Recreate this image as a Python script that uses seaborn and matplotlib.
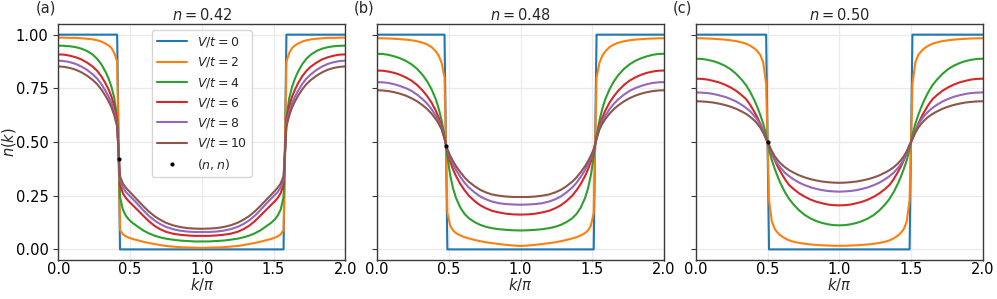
import matplotlib
matplotlib.use("Agg")
import matplotlib.pyplot as plt
import seaborn as sns

# momentum distribution n(k) for k/pi in [0, 1]; the other half is the mirror image about k = pi
densities = [0.42, 0.48, 0.50]
panel_tags = ["(a)", "(b)", "(c)"]
v_labels = [r"$V/t = 0$", r"$V/t = 2$", r"$V/t = 4$", r"$V/t = 6$", r"$V/t = 8$", r"$V/t = 10$"]

# (a) n = 0.42
k_a = [0.0, 0.04, 0.08, 0.12, 0.16, 0.20, 0.24, 0.27, 0.30, 0.33, 0.35, 0.37, 0.39, 0.41,
       0.43, 0.45, 0.47, 0.49, 0.52, 0.55, 0.59, 0.63, 0.67, 0.71, 0.75, 0.80, 0.85, 0.90, 0.95, 1.0]
a_v0 = [1] * 14 + [0] * 16
a_v2 = [0.986, 0.986, 0.985, 0.985, 0.983, 0.981, 0.978, 0.974, 0.968, 0.958, 0.950, 0.938, 0.915, 0.875,
        0.090, 0.070, 0.061, 0.055, 0.048, 0.043, 0.036, 0.030, 0.025, 0.020, 0.016, 0.013, 0.010, 0.009, 0.008, 0.007]
a_v4 = [0.949, 0.948, 0.946, 0.942, 0.935, 0.924, 0.907, 0.888, 0.862, 0.826, 0.796, 0.758, 0.705, 0.615,
        0.245, 0.185, 0.158, 0.140, 0.122, 0.108, 0.089, 0.075, 0.064, 0.056, 0.050, 0.045, 0.041, 0.039, 0.037, 0.037]
a_v6 = [0.908, 0.907, 0.902, 0.895, 0.885, 0.870, 0.851, 0.832, 0.806, 0.772, 0.745, 0.712, 0.668, 0.600,
        0.300, 0.262, 0.240, 0.225, 0.205, 0.185, 0.158, 0.132, 0.110, 0.094, 0.082, 0.073, 0.068, 0.065, 0.063, 0.063]
a_v8 = [0.879, 0.877, 0.872, 0.864, 0.852, 0.836, 0.815, 0.796, 0.770, 0.737, 0.712, 0.682, 0.642, 0.582,
        0.325, 0.288, 0.268, 0.254, 0.234, 0.213, 0.184, 0.157, 0.135, 0.118, 0.105, 0.094, 0.087, 0.083, 0.081, 0.081]
a_v10 = [0.852, 0.850, 0.845, 0.837, 0.825, 0.809, 0.789, 0.770, 0.745, 0.714, 0.690, 0.662, 0.624, 0.572,
         0.340, 0.307, 0.288, 0.273, 0.252, 0.231, 0.203, 0.177, 0.155, 0.138, 0.124, 0.112, 0.104, 0.099, 0.097, 0.096]

# (b) n = 0.48
k_b = [0.0, 0.04, 0.08, 0.12, 0.16, 0.20, 0.24, 0.28, 0.32, 0.35, 0.38, 0.41, 0.43, 0.45, 0.47,
       0.49, 0.51, 0.53, 0.55, 0.58, 0.61, 0.64, 0.68, 0.72, 0.76, 0.80, 0.85, 0.90, 0.95, 1.0]
b_v0 = [1] * 15 + [0] * 15
b_v2 = [0.983, 0.983, 0.982, 0.981, 0.979, 0.977, 0.974, 0.969, 0.962, 0.954, 0.942, 0.922, 0.902, 0.868, 0.800,
        0.170, 0.110, 0.088, 0.076, 0.065, 0.057, 0.051, 0.044, 0.038, 0.033, 0.029, 0.025, 0.021, 0.018, 0.016]
b_v4 = [0.911, 0.910, 0.906, 0.899, 0.890, 0.878, 0.862, 0.840, 0.810, 0.782, 0.745, 0.698, 0.655, 0.600, 0.530,
        0.430, 0.345, 0.283, 0.240, 0.195, 0.165, 0.145, 0.127, 0.114, 0.105, 0.099, 0.094, 0.091, 0.089, 0.088]
b_v6 = [0.833, 0.832, 0.828, 0.822, 0.813, 0.801, 0.786, 0.765, 0.738, 0.713, 0.683, 0.645, 0.613, 0.575, 0.520,
        0.455, 0.408, 0.372, 0.342, 0.305, 0.275, 0.250, 0.225, 0.205, 0.191, 0.180, 0.172, 0.166, 0.163, 0.162]
b_v8 = [0.779, 0.778, 0.775, 0.769, 0.761, 0.751, 0.738, 0.720, 0.698, 0.678, 0.653, 0.622, 0.597, 0.565, 0.518,
        0.462, 0.425, 0.395, 0.370, 0.338, 0.310, 0.288, 0.265, 0.246, 0.233, 0.223, 0.215, 0.211, 0.209, 0.208]
b_v10 = [0.741, 0.740, 0.737, 0.732, 0.725, 0.716, 0.704, 0.689, 0.670, 0.653, 0.632, 0.606, 0.585, 0.558, 0.515,
         0.466, 0.436, 0.410, 0.388, 0.360, 0.335, 0.315, 0.294, 0.277, 0.265, 0.256, 0.250, 0.246, 0.244, 0.244]

# (c) n = 0.50
k_c = [0.0, 0.04, 0.08, 0.12, 0.16, 0.20, 0.24, 0.28, 0.32, 0.35, 0.38, 0.41, 0.43, 0.45, 0.47, 0.49,
       0.51, 0.53, 0.55, 0.57, 0.59, 0.62, 0.65, 0.68, 0.72, 0.76, 0.80, 0.84, 0.88, 0.92, 0.96, 1.0]
c_v0 = [1] * 16 + [0] * 16
c_v2 = [0.983, 0.983, 0.982, 0.981, 0.979, 0.977, 0.974, 0.970, 0.964, 0.958, 0.948, 0.935, 0.922, 0.905, 0.870, 0.770,
        0.230, 0.130, 0.095, 0.078, 0.065, 0.052, 0.042, 0.036, 0.030, 0.026, 0.023, 0.021, 0.019, 0.018, 0.017, 0.017]
c_v4 = [0.888, 0.887, 0.883, 0.877, 0.868, 0.856, 0.840, 0.818, 0.790, 0.765, 0.732, 0.692, 0.660, 0.625, 0.585, 0.535,
        0.465, 0.415, 0.375, 0.340, 0.308, 0.268, 0.235, 0.210, 0.182, 0.160, 0.144, 0.132, 0.123, 0.117, 0.113, 0.112]
c_v6 = [0.795, 0.794, 0.791, 0.785, 0.778, 0.768, 0.755, 0.739, 0.718, 0.700, 0.672, 0.638, 0.613, 0.585, 0.553, 0.518,
        0.482, 0.447, 0.415, 0.387, 0.362, 0.328, 0.300, 0.282, 0.261, 0.245, 0.232, 0.222, 0.215, 0.209, 0.206, 0.205]
c_v8 = [0.731, 0.730, 0.728, 0.724, 0.718, 0.711, 0.701, 0.689, 0.673, 0.659, 0.642, 0.620, 0.602, 0.581, 0.553, 0.517,
        0.483, 0.447, 0.419, 0.398, 0.380, 0.358, 0.341, 0.327, 0.311, 0.299, 0.289, 0.282, 0.276, 0.272, 0.270, 0.269]
c_v10 = [0.690, 0.689, 0.687, 0.684, 0.679, 0.673, 0.665, 0.655, 0.642, 0.631, 0.617, 0.599, 0.584, 0.566, 0.543, 0.513,
         0.487, 0.457, 0.434, 0.416, 0.401, 0.383, 0.369, 0.358, 0.345, 0.335, 0.327, 0.321, 0.316, 0.313, 0.311, 0.310]

panels = [
    (k_a, [a_v0, a_v2, a_v4, a_v6, a_v8, a_v10]),
    (k_b, [b_v0, b_v2, b_v4, b_v6, b_v8, b_v10]),
    (k_c, [c_v0, c_v2, c_v4, c_v6, c_v8, c_v10]),
]


def mirror_k(k):
    return list(k) + [2 - x for x in k[-2::-1]]


def mirror_vals(v):
    return list(v) + list(v[-2::-1])


sns.set_style("ticks", {"axes.grid": True, "grid.color": "#ebebeb", "axes.edgecolor": "#3a3a3a",
                        "xtick.direction": "out", "ytick.direction": "out"})
plt.rcParams["font.family"] = ["DejaVu Sans"]
plt.rcParams["axes.linewidth"] = 1.0

colors = sns.color_palette("tab10", 6)

fig, axes = plt.subplots(1, 3, figsize=(9.97, 2.99), dpi=100, sharey=True)
fig.subplots_adjust(left=0.0585, right=0.9857, bottom=0.130, top=0.920, wspace=0.111)

for i, ax in enumerate(axes):
    k, curves = panels[i]
    kk = mirror_k(k)
    for j, vals in enumerate(curves):
        sns.lineplot(x=kk, y=mirror_vals(vals), color=colors[j], lw=1.5,
                     label=v_labels[j], ax=ax, legend=False)
    n = densities[i]
    ax.plot([n], [n], ".", color="k", ms=4, zorder=6, label=r"$(n,n)$")
    ax.set_xlim(0, 2)
    ax.set_ylim(-0.05, 1.05)
    ax.set_xticks([0.0, 0.5, 1.0, 1.5, 2.0])
    ax.set_yticks([0.0, 0.25, 0.5, 0.75, 1.0])
    ax.tick_params(axis="y", labelsize=10.5, length=3.5, pad=3.5, colors="#3a3a3a", labelcolor="black")
    ax.tick_params(axis="x", labelsize=10.5, length=1.0, pad=0.3, colors="#3a3a3a", labelcolor="black")
    ax.set_title(f"$n = {n:.2f}$", fontsize=10.5, pad=3)
    ax.set_xlabel(r"$k/\pi$", fontsize=10.5)
    ax.xaxis.set_label_coords(0.5, -0.068)
    ax.text(-0.08, 1.068, panel_tags[i], transform=ax.transAxes, fontsize=10.5,
            ha="left", va="center")
    ax.grid(True, color="#ebebeb", lw=1.0)
    for s in ax.spines.values():
        s.set_visible(True)

axes[0].set_ylabel(r"$n(k)$", fontsize=10.5)
axes[0].yaxis.set_label_coords(-0.142, 0.5)
axes[0].legend(loc="upper center", fontsize=9, handlelength=2.4, framealpha=0.8)

fig.savefig("out.png", dpi=100)
